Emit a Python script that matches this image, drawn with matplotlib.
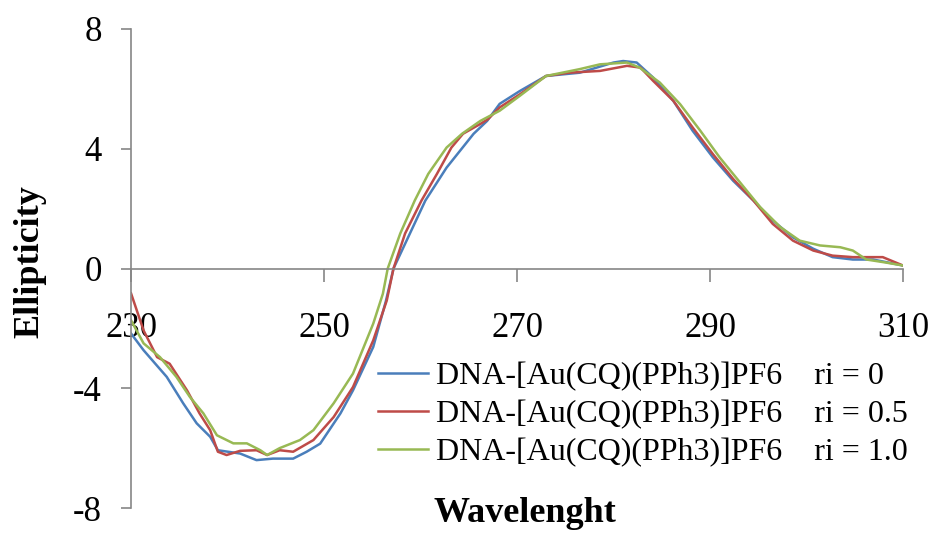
import matplotlib
matplotlib.use("Agg")
import matplotlib.pyplot as plt

# CD spectra (wavelength, ellipticity)
wl_0 = [230, 231.3, 233.7, 235.4, 236.8, 238.2, 239, 241.3, 243, 244.7, 246.8, 248.2,
        249.6, 251.7, 253, 255.1, 256.4, 257.2, 260.5, 262.7, 265.5, 266.9, 268.2,
        270.3, 273, 276.5, 280, 281, 282.4, 284.1, 286.2, 288.2, 290.3, 292.4, 294.5,
        296.5, 298.6, 300.7, 302.7, 304.8, 306.9, 310]
ell_0 = [-2.17, -2.73, -3.62, -4.5, -5.17, -5.62, -6.07, -6.18, -6.4, -6.35, -6.35, -6.12,
         -5.85, -4.84, -4.07, -2.62, -1.1, 0.0, 2.27, 3.37, 4.5, 4.93, 5.5,
         5.93, 6.43, 6.54, 6.88, 6.93, 6.88, 6.38, 5.6, 4.6, 3.71, 2.93, 2.27,
         1.6, 1.04, 0.66, 0.38, 0.3, 0.3, 0.1]

wl_05 = [230, 231.3, 232.7, 234, 235.8, 237.1, 238.2, 239, 239.9, 241.3, 243, 244.1,
         245.4, 246.8, 248.9, 251, 253, 255.1, 256.5, 257.2, 258.4, 260.1, 261.7,
         263.2, 264.4, 266.2, 267, 268.2, 270.3, 273, 275.4, 278.6, 281.4, 282.8,
         284.1, 286.2, 288.2, 290.3, 292.4, 294.5, 296.5, 298.6, 300.7, 302.7, 304.8,
         306.9, 307.9, 310]
ell_05 = [-0.83, -2.07, -2.96, -3.18, -4.07, -4.84, -5.4, -6.12, -6.23, -6.09, -6.07, -6.23,
          -6.07, -6.12, -5.73, -4.96, -3.96, -2.4, -1.07, 0.0, 1.17, 2.27, 3.16,
          4.04, 4.5, 4.83, 4.99, 5.38, 5.82, 6.43, 6.54, 6.6, 6.77, 6.71,
          6.27, 5.6, 4.71, 3.82, 2.99, 2.27, 1.49, 0.93, 0.6, 0.43, 0.38,
          0.38, 0.38, 0.1]

wl_10 = [230, 231.3, 233, 234.7, 236.1, 237.5, 238.9, 240.6, 242, 243.4, 244.1, 245.4,
         247.5, 248.9, 251, 253, 255.1, 256.1, 256.6, 257.9, 259.4, 260.8, 262.7,
         264.3, 266.2, 268.2, 270.3, 273, 276.5, 278.6, 281.4, 282.7, 284.8, 286.9,
         289, 291, 293.1, 295.2, 297.3, 299.3, 301.4, 303.5, 304.8, 306.2, 308.2, 310]
ell_10 = [-1.73, -2.5, -2.96, -3.62, -4.29, -4.84, -5.57, -5.84, -5.84, -6.07, -6.23, -6.0,
          -5.73, -5.4, -4.5, -3.51, -1.84, -0.84, 0.0, 1.17, 2.27, 3.16, 4.04,
          4.5, 4.93, 5.27, 5.77, 6.43, 6.66, 6.82, 6.88, 6.71, 6.21, 5.49,
          4.6, 3.71, 2.88, 2.05, 1.38, 0.93, 0.77, 0.71, 0.6, 0.3, 0.2, 0.1]

labels = ["DNA-[Au(CQ)(PPh3)]PF6    ri = 0",
          "DNA-[Au(CQ)(PPh3)]PF6    ri = 0.5",
          "DNA-[Au(CQ)(PPh3)]PF6    ri = 1.0"]
colors = ["#4a7ebb", "#be4b48", "#98b954"]

plt.rcParams['font.family'] = 'Liberation Serif'
plt.rcParams['axes.unicode_minus'] = False

fig = plt.figure(figsize=(9.38, 5.36), dpi=100)
ax = fig.add_axes([0.1397, 0.0522, 0.823, 0.8937])

for x, y, lab, c in [(wl_0, ell_0, labels[0], colors[0]),
                     (wl_05, ell_05, labels[1], colors[1]),
                     (wl_10, ell_10, labels[2], colors[2])]:
    ax.plot(x, y, color=c, lw=1.8, label=lab)

ax.set_xlim(230, 310)
ax.set_ylim(-8, 8)
ax.set_xticks([230, 250, 270, 290, 310])
ax.set_yticks([-8, -4, 0, 4, 8])

ax.spines['top'].set_visible(False)
ax.spines['right'].set_visible(False)
ax.spines['bottom'].set_position(('data', 0))
for s in ['left', 'bottom']:
    ax.spines[s].set_color('#868686')
    ax.spines[s].set_linewidth(1.2)

ax.tick_params(axis='x', direction='out', length=9, width=1.2, color='#868686',
               labelsize=25, pad=22)
ax.tick_params(axis='y', direction='out', length=7, width=1.2, color='#868686',
               labelsize=25, pad=14)

fig.text(30 / 938, 1 - 262 / 536, 'Ellipticity', rotation=90, ha='center', va='center',
         fontsize=26, fontweight='bold')
fig.text(525 / 938, 1 - 513 / 536, 'Wavelenght', ha='center', va='center',
         fontsize=26, fontweight='bold')

ax.legend(loc='upper left', bbox_to_anchor=(0.32, 0.305), frameon=False, fontsize=23,
          handlelength=1.55, handletextpad=0.25, labelspacing=0.27,
          borderpad=0, borderaxespad=0)

fig.savefig("out.png", dpi=100)
